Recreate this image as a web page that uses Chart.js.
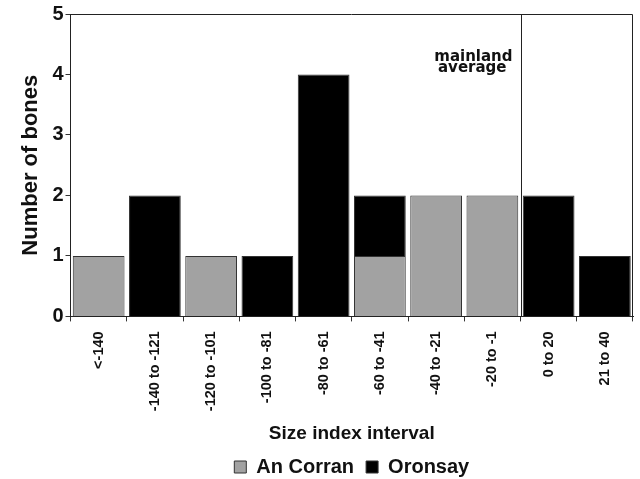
<!DOCTYPE html>
<html lang="en">
<head>
    <meta charset="UTF-8">
    <title>Number of bones by size index interval</title>
    <script src="https://cdn.jsdelivr.net/npm/chart.js"></script>
    <style>
        body { margin: 0; background: #fff; }
        #wrap { width: 640px; height: 479px; }
    </style>
</head>
<body>
    <div id="wrap"><canvas id="chart"></canvas></div>

    <script>
        // categories and counts
        var intervals = ["<-140", "-140 to -121", "-120 to -101", "-100 to -81", "-80 to -61",
                         "-60 to -41", "-40 to -21", "-20 to -1", "0 to 20", "21 to 40"];
        var anCorran = [1, 0, 1, 0, 0, 1, 2, 2, 0, 0];
        var oronsay  = [0, 2, 0, 1, 4, 1, 0, 0, 2, 1];
        var yTicks   = [0, 1, 2, 3, 4, 5];

        var fontFamily = "'Liberation Sans', Arial, sans-serif";

        // frame on top/right plus the mainland average marker
        var framePlugin = {
            id: 'frame',
            afterDatasetsDraw: function(chart) {
                var c = chart.ctx, a = chart.chartArea, xs = chart.scales.x;
                c.save();
                c.strokeStyle = '#222';
                c.lineWidth = 1;
                c.beginPath();
                c.moveTo(a.left, a.top + 0.5);
                c.lineTo(a.right - 0.5, a.top + 0.5);
                c.lineTo(a.right - 0.5, a.bottom);
                var mx = Math.round((xs.getPixelForValue(7) + xs.getPixelForValue(8)) / 2) + 0.5;
                c.moveTo(mx, a.top);
                c.lineTo(mx, a.bottom);
                c.stroke();
                c.fillStyle = '#111';
                c.font = 'bold 15px "DejaVu Sans", sans-serif';
                c.textAlign = 'right';
                c.textBaseline = 'alphabetic';
                c.fillText('mainland', mx - 9, a.top + 47);
                c.fillText('average', mx - 15, a.top + 58);
                c.restore();
            }
        };

        var ctx = document.getElementById('chart').getContext('2d');
        var chart = new Chart(ctx, {
            type: 'bar',
            data: {
                labels: intervals,
                datasets: [
                    {
                        label: 'An Corran',
                        data: anCorran,
                        backgroundColor: '#a2a2a2',
                        borderColor: '#333',
                        borderWidth: 1,
                        barPercentage: 0.92,
                        categoryPercentage: 1.0
                    },
                    {
                        label: 'Oronsay',
                        data: oronsay,
                        backgroundColor: '#000',
                        borderColor: '#333',
                        borderWidth: 1,
                        barPercentage: 0.92,
                        categoryPercentage: 1.0
                    }
                ]
            },
            options: {
                responsive: true,
                maintainAspectRatio: false,
                animation: false,
                layout: { padding: { top: 13, right: 7, left: 18, bottom: -8 } },
                plugins: {
                    tooltip: { enabled: false },
                    legend: {
                        position: 'bottom',
                        fullSize: false,
                        labels: {
                            color: '#111',
                            font: { family: fontFamily, size: 20, weight: 'bold' },
                            boxWidth: 12,
                            boxHeight: 12,
                            padding: 12
                        }
                    }
                },
                scales: {
                    x: {
                        stacked: true,
                        grid: { display: true, drawOnChartArea: false, drawTicks: true, tickLength: 5, color: '#333', offset: true },
                        border: { display: true, color: '#222', width: 1 },
                        ticks: {
                            color: '#111',
                            minRotation: 90,
                            maxRotation: 90,
                            autoSkip: false,
                            font: { family: fontFamily, size: 14.5, weight: 'bold' },
                            padding: 10
                        },
                        title: {
                            display: true,
                            text: 'Size index interval',
                            color: '#111',
                            font: { family: fontFamily, size: 19, weight: 'bold' },
                            padding: { top: 1, bottom: 0 }
                        }
                    },
                    y: {
                        stacked: true,
                        min: 0,
                        max: 5,
                        afterBuildTicks: function(axis) {
                            axis.ticks = yTicks.map(function(v) { return { value: v }; });
                        },
                        grid: { display: true, drawOnChartArea: false, drawTicks: true, tickLength: 5, color: '#333' },
                        border: { display: true, color: '#222', width: 1 },
                        ticks: {
                            color: '#111',
                            font: { family: fontFamily, size: 20, weight: 'bold' },
                            padding: 2
                        },
                        title: {
                            display: true,
                            text: 'Number of bones',
                            color: '#111',
                            font: { family: fontFamily, size: 22, weight: 'bold' },
                            padding: { top: 0, bottom: 6 }
                        }
                    }
                }
            },
            plugins: [framePlugin]
        });
    </script>
</body>
</html>
